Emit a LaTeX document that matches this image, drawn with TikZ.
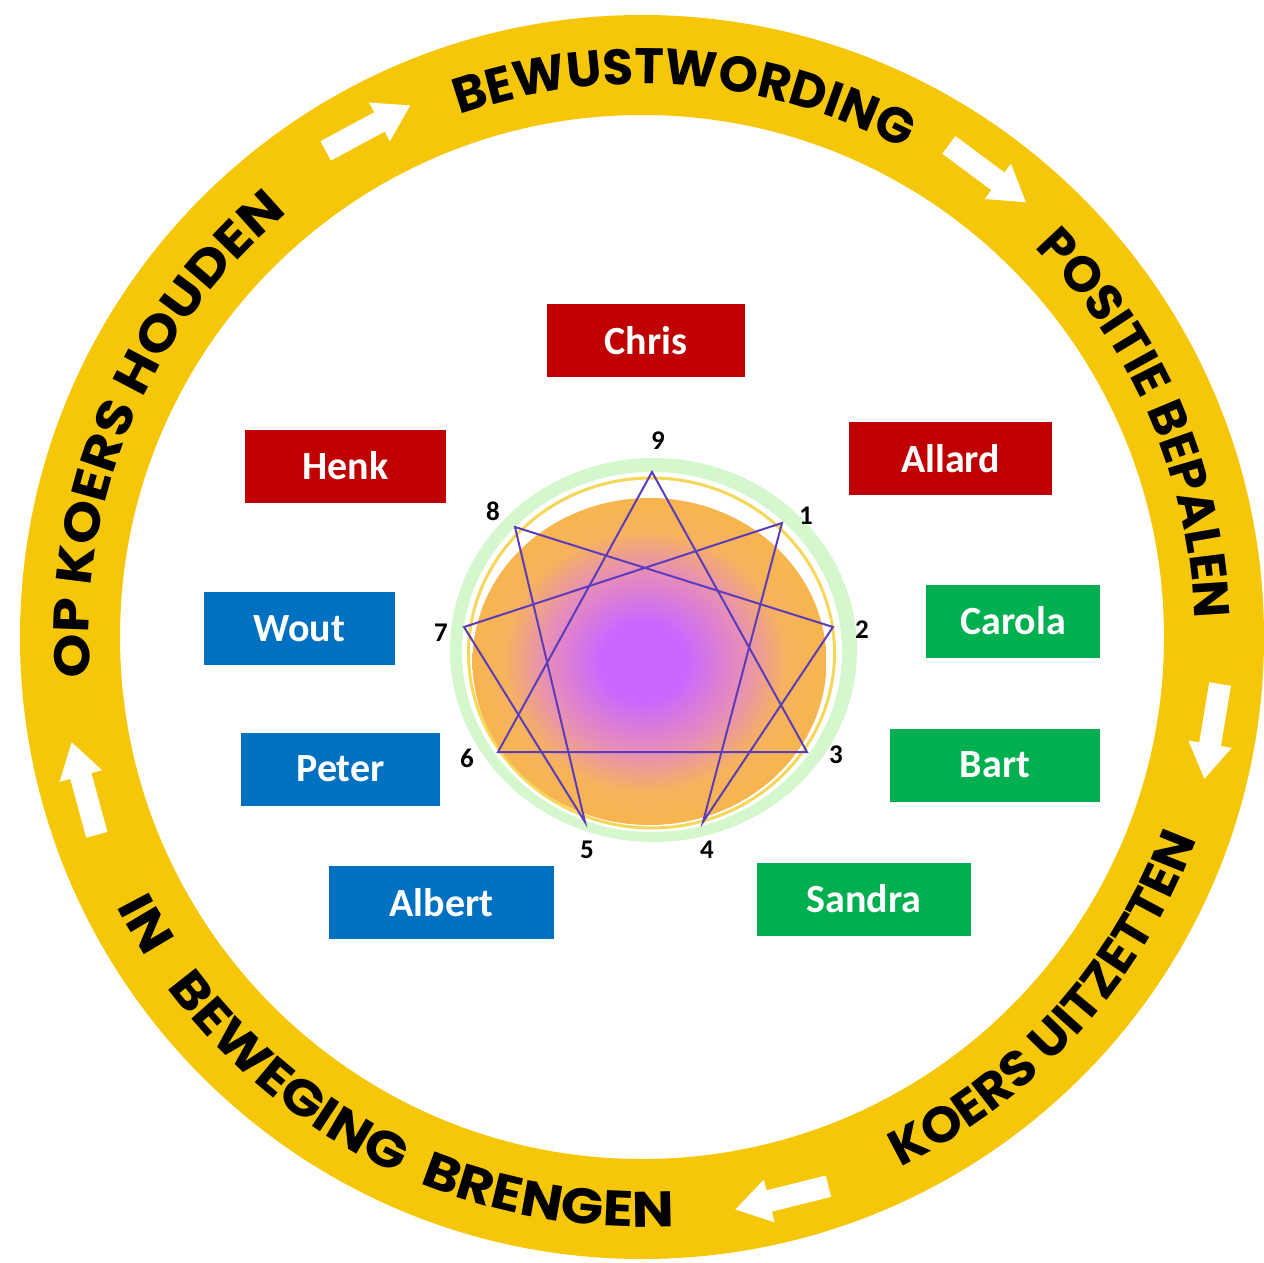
\documentclass[tikz,border=0pt]{standalone}
\usepackage{fontspec}
\setmainfont{Carlito}
\newfontfamily\ringfont{Poppins}
\newfontfamily\ringfontmid{Poppins}[FakeStretch=1.04]
\newfontfamily\ringwidefont{Poppins}[FakeStretch=1.12]
\usetikzlibrary{decorations.text}
\definecolor{ringyellow}{RGB}{246,199,8}
\definecolor{boxred}{RGB}{192,0,0}
\definecolor{boxblue}{RGB}{0,112,192}
\definecolor{boxgreen}{RGB}{0,176,80}
\definecolor{starline}{RGB}{92,60,185}
\definecolor{palegreen}{RGB}{212,247,205}
\definecolor{thinyellow}{RGB}{245,215,90}
\pgfdeclareradialshading{diskshade}{\pgfpoint{-1bp}{0bp}}{%
  rgb(0bp)=(0.8,0.4,1); rgb(6bp)=(0.8,0.4,1); rgb(14bp)=(0.9,0.56,0.72);
  rgb(20bp)=(0.97,0.70,0.36); rgb(25bp)=(0.97,0.71,0.31); rgb(50bp)=(0.97,0.71,0.31)}
\newcommand\ringarrow[1]{%
  \pgfmathsetmacro\ax{642+578*cos(#1)}%
  \pgfmathsetmacro\ay{-637+578*sin(#1)}%
  \fill[white, shift={(\ax,\ay)}, rotate=#1-90]
    (-48,-11) -- (13,-11) -- (13,-22) -- (48,0) -- (13,22) -- (13,11) -- (-48,11) -- cycle;}
\newcommand\ringtext{\ringfont\bfseries\fontsize{50}{50}\selectfont}
\newcommand\ringmidtext{\ringfontmid\bfseries\fontsize{50}{50}\selectfont}
\newcommand\ringwidetext{\ringwidefont\bfseries\fontsize{50}{50}\selectfont}
\tikzset{
  namebox/.style={minimum height=73pt, inner sep=0pt, text=white,
    font=\bfseries\fontsize{40}{40}\selectfont},
  numlabel/.style={font=\bfseries\fontsize{27}{27}\selectfont, text=black, inner sep=0pt},
  starstyle/.style={draw=starline, line width=2pt, line join=miter},
  ringlabel/.style={decorate, decoration={text along path, text align=center,
    text={|\ringtext|#1}}},
  ringlabelmid/.style={decorate, decoration={text along path, text align=center,
    text={|\ringmidtext|#1}}},
  ringlabelwide/.style={decorate, decoration={text along path, text align=center,
    text={|\ringwidetext|#1}}}
}
\begin{document}
\begin{tikzpicture}[x=1pt,y=1pt]
\useasboundingbox (0,0) rectangle (1264,-1263);
\fill[white] (0,0) rectangle (1264,-1263);
\coordinate (C) at (642,-637);
% yellow ring
\draw[ringyellow, line width=100pt] (C) circle[radius=572];
% ring arrows
\ringarrow{118.3}
\ringarrow{53.3}
\ringarrow{-9.4}
\ringarrow{-76}
\ringarrow{195.2}
% ring texts (clockwise, letters outward)
\path[ringlabel=BEWUSTWORDING] (C) ++(140.5:553) arc[start angle=140.5, end angle=30.5, radius=553];
\path[ringlabel=POSITIE BEPALEN] (C) ++(78.3:553) arc[start angle=78.3, end angle=-31.7, radius=553];
\path[ringlabelwide=OP KOERS HOUDEN] (C) ++(212:553) arc[start angle=212, end angle=102, radius=553];
% ring texts (counter-clockwise, letters inward)
\path[ringlabelmid=KOERS UITZETTEN] (C) ++(-97:590) arc[start angle=-97, end angle=13, radius=590];
\path[ringlabelwide=IN] (C) ++(185:590) arc[start angle=185, end angle=235, radius=590];
\path[ringlabelwide=BEWEGING] (C) ++(200:590) arc[start angle=200, end angle=262, radius=590];
\path[ringlabelwide=BRENGEN] (C) ++(230.5:590) arc[start angle=230.5, end angle=290.5, radius=590];
% central disk
\fill[palegreen] (653.5,-650) ellipse[x radius=203.5, y radius=192];
\fill[white] (652,-652) ellipse[x radius=190, y radius=180];
\draw[thinyellow, line width=3pt] (651.5,-653) ellipse[x radius=183, y radius=175];
\shade[shading=diskshade] (649.5,-661.5) ellipse[x radius=177, y radius=163.5];
% enneagram vertices
\coordinate (v9) at (652,-472);
\coordinate (v1) at (782,-523);
\coordinate (v2) at (833,-627);
\coordinate (v3) at (807,-752);
\coordinate (v4) at (703,-822);
\coordinate (v5) at (585,-822);
\coordinate (v6) at (498,-752);
\coordinate (v7) at (464,-627);
\coordinate (v8) at (515,-527);
\draw[starstyle] (v9) -- (v3) -- (v6) -- cycle;
\draw[starstyle] (v1) -- (v4) -- (v2) -- (v8) -- (v5) -- (v7) -- cycle;
% numbers
\node[numlabel] (n9) at (658,-441) {9};
\node[numlabel] (n1) at (806,-516) {1};
\node[numlabel] (n2) at (862,-630) {2};
\node[numlabel] (n3) at (836,-755) {3};
\node[numlabel] (n4) at (707,-850) {4};
\node[numlabel] (n5) at (587,-850) {5};
\node[numlabel] (n6) at (467,-758) {6};
\node[numlabel] (n7) at (441,-633) {7};
\node[numlabel] (n8) at (493,-511) {8};
% name boxes
\node[namebox, fill=boxred, minimum width=198pt] (chris) at (646,-340.5) {Chris};
\node[namebox, fill=boxred, minimum width=201pt] (henk) at (345.5,-466) {Henk};
\node[namebox, fill=boxred, minimum width=203pt] (allard) at (950.5,-458.5) {Allard};
\node[namebox, fill=boxgreen, minimum width=174pt] (carola) at (1013,-621) {Carola};
\node[namebox, fill=boxgreen, minimum width=210pt] (bart) at (995,-765) {Bart};
\node[namebox, fill=boxgreen, minimum width=214pt] (sandra) at (864,-899) {Sandra};
\node[namebox, fill=boxblue, minimum width=191pt] (wout) at (299.5,-628.5) {Wout};
\node[namebox, fill=boxblue, minimum width=199pt] (peter) at (340.5,-769) {Peter};
\node[namebox, fill=boxblue, minimum width=225pt] (albert) at (441.5,-902.5) {Albert};
\end{tikzpicture}
\end{document}
